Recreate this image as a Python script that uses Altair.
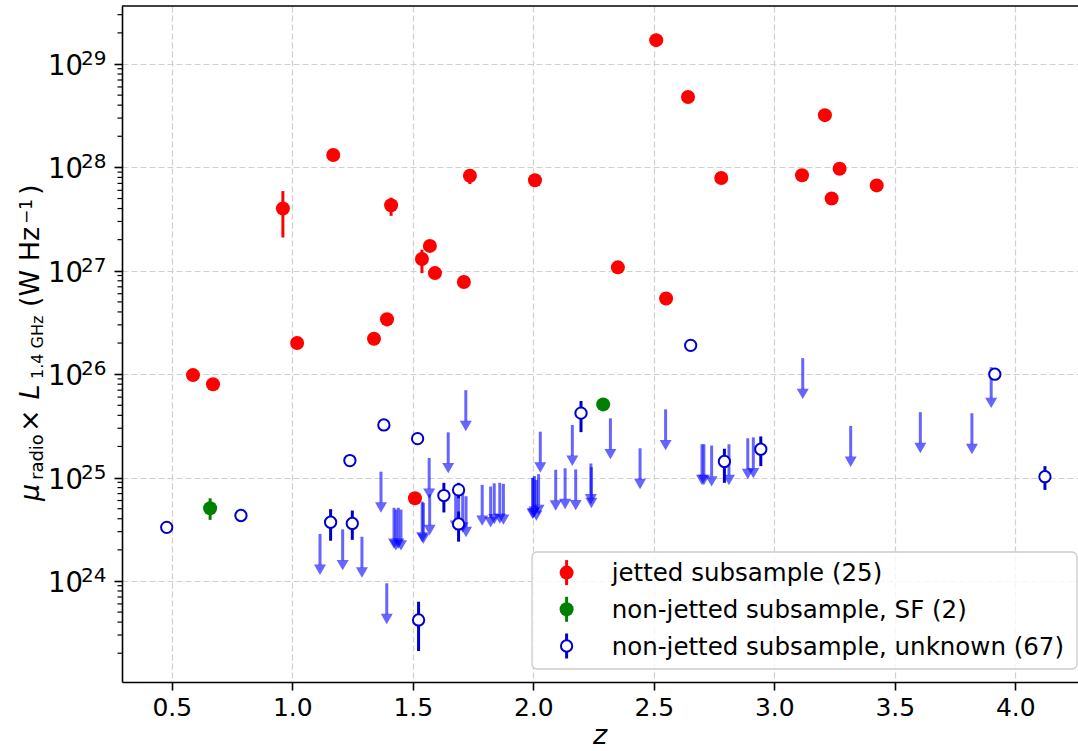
import altair as alt
import pandas as pd

# ---------------- data ----------------
# jetted subsample (25)
jet_z = [0.588, 0.671, 0.961, 1.020, 1.170, 1.339, 1.393, 1.410, 1.509, 1.538,
         1.571, 1.592, 1.712, 1.737, 2.007, 2.351, 2.510, 2.551, 2.642, 2.780,
         3.115, 3.210, 3.238, 3.271, 3.425]
jet_L = [9.8e25, 8.0e25, 4.0e27, 2.0e26, 1.32e28, 2.2e26, 3.4e26, 4.3e27, 6.3e24, 1.3e27,
         1.74e27, 9.5e26, 7.8e26, 8.3e27, 7.5e27, 1.08e27, 1.7e29, 5.4e26, 4.8e28, 7.9e27,
         8.4e27, 3.2e28, 5.0e27, 9.7e27, 6.7e27]
jet_lo = [9.8e25, 8.0e25, 2.1e27, 2.0e26, 1.32e28, 2.2e26, 2.9e26, 3.4e27, 6.3e24, 9.5e26,
          1.74e27, 9.5e26, 7.8e26, 6.9e27, 7.5e27, 1.08e27, 1.7e29, 5.4e26, 4.8e28, 7.2e27,
          8.4e27, 3.2e28, 5.0e27, 9.7e27, 6.7e27]
jet_hi = [9.8e25, 8.0e25, 5.9e27, 2.0e26, 1.32e28, 2.2e26, 3.9e26, 5.1e27, 6.3e24, 1.6e27,
          1.74e27, 9.5e26, 7.8e26, 9.4e27, 7.5e27, 1.08e27, 1.7e29, 5.4e26, 4.8e28, 7.9e27,
          8.4e27, 3.2e28, 5.0e27, 9.7e27, 6.7e27]

# non-jetted subsample, SF (2)
sf_z = [0.659, 2.290]
sf_L = [5.05e24, 5.1e25]
sf_lo = [3.9e24, 4.4e25]
sf_hi = [6.3e24, 5.75e25]

# non-jetted subsample, unknown: detections (17)
unk_z = [0.479, 0.787, 1.159, 1.249, 1.239, 1.380, 1.520, 1.524, 1.629, 1.690,
         1.690, 2.198, 2.653, 2.793, 2.944, 3.915, 4.123]
unk_L = [3.3e24, 4.3e24, 3.7e24, 3.6e24, 1.46e25, 3.23e25, 2.38e25, 4.2e23, 6.7e24, 7.6e24,
         3.56e24, 4.2e25, 1.9e26, 1.43e25, 1.88e25, 1.0e26, 1.02e25]
unk_lo = [3.3e24, 4.3e24, 2.45e24, 2.5e24, 1.46e25, 3.23e25, 2.38e25, 2.1e23, 4.6e24, 6.3e24,
          2.4e24, 2.75e25, 1.9e26, 8.9e24, 1.29e25, 1.0e26, 7.6e24]
unk_hi = [3.3e24, 4.3e24, 4.95e24, 4.8e24, 1.46e25, 3.23e25, 2.38e25, 6.3e23, 8.9e24, 8.9e24,
          4.7e24, 5.5e25, 1.9e26, 1.9e25, 2.5e25, 1.0e26, 1.29e25]

# non-jetted subsample, unknown: upper limits (50)
lim_z = [1.115, 1.209, 1.289, 1.368, 1.392, 1.422, 1.440, 1.451, 1.539, 1.544,
         1.568, 1.570, 1.647, 1.720, 1.678, 1.707, 1.721, 1.788, 1.823, 1.838,
         1.861, 1.876, 2.029, 1.997, 2.005, 2.013, 2.022, 2.093, 2.132, 2.176,
         2.162, 2.239, 2.241, 2.320, 2.443, 2.549, 2.700, 2.708, 2.740, 2.812,
         2.890, 2.913, 3.118, 3.317, 3.606, 3.820, 3.900, 1.430, 2.000, 1.690]
lim_L = [2.85e24, 3.16e24, 2.68e24, 1.14e25, 9.5e23, 5.1e24, 5.1e24, 4.9e24, 5.85e24, 5.7e24,
         1.55e25, 6.9e24, 2.74e25, 7.0e25, 7.6e24, 7.3e24, 6.6e24, 8.5e24, 8.2e24, 8.8e24,
         8.9e24, 8.7e24, 2.78e25, 9.9e24, 1.035e25, 9.5e24, 1.08e25, 1.19e25, 1.23e25, 1.2e25,
         3.23e25, 1.37e25, 1.26e25, 3.74e25, 1.92e25, 4.57e25, 2.1e25, 2.1e25, 2.04e25, 2.1e25,
         2.4e25, 2.45e25, 1.43e26, 3.16e25, 4.29e25, 4.19e25, 1.17e26, 4.9e24, 1.0e25, 7.4e24]

x_ticks = [0.5, 1.0, 1.5, 2.0, 2.5, 3.0, 3.5, 4.0]
y_exps = [24, 25, 26, 27, 28, 29]
legend_labels = ["jetted subsample (25)",
                 "non-jetted subsample, SF (2)",
                 "non-jetted subsample, unknown (67)"]

# ---------------- layout / style ----------------
W, H = 956, 676
FONT = "DejaVu Sans"
XDOM = [0.2934, 4.2602]
YDOM = [1.054e23, 3.639e29]
RED, GREEN, DBLUE = "#ff0000", "#008000", "#0000cc"

xscale = alt.Scale(domain=XDOM, nice=False, zero=False)
yscale = alt.Scale(type="log", domain=YDOM, nice=False)

grid_kw = dict(grid=True, gridDash=[6, 3], gridColor="#d0d0d0", gridWidth=1.2,
               tickColor="black", tickWidth=1.6, tickSize=8,
               domainColor="black", domainWidth=1.6, title=None)
xaxis = alt.Axis(values=x_ticks, format=".1f", labelFont=FONT, labelFontSize=25,
                 labelColor="black", labelPadding=5, labelFlush=False,
                 labelOverlap=False, **grid_kw)
yaxis = alt.Axis(values=[10.0 ** e for e in y_exps], labels=False, **grid_kw)


def X(field):
    return alt.X(field, scale=xscale, axis=xaxis, title=None)


def Y(field):
    return alt.Y(field, scale=yscale, axis=yaxis, title=None)


one = pd.DataFrame({"k": [0]})

# ---------------- upper-limit arrows ----------------
lim_df = pd.DataFrame({"z": lim_z, "L": lim_L})
arr = alt.Chart(lim_df).transform_calculate(
    tail="datum.L * pow(10, -0.30)", head="datum.L * pow(10, -0.346)")
arrow_lines = arr.mark_rule(color="blue", opacity=0.6, strokeWidth=3).encode(
    x=X("z:Q"), y=Y("L:Q"), y2="tail:Q")
arrow_heads = arr.mark_point(shape="triangle-down", filled=True, size=144,
                             color="blue", opacity=0.6, strokeWidth=0).encode(
    x=X("z:Q"), y=Y("head:Q"))


def err_and_points(z, L, lo, hi, color, open_marker=False):
    df = pd.DataFrame({"z": z, "L": L, "lo": lo, "hi": hi})
    base = alt.Chart(df)
    bars = base.mark_rule(color=color, strokeWidth=3).encode(
        x=X("z:Q"), y=Y("lo:Q"), y2="hi:Q")
    if open_marker:
        pts = base.mark_point(shape="circle", fill="white", fillOpacity=1,
                              stroke=color, strokeWidth=2, size=128, opacity=1)
    else:
        pts = base.mark_circle(color=color, size=196, opacity=1)
    pts = pts.encode(x=X("z:Q"), y=Y("L:Q"))
    return [bars, pts]


jet_layers = err_and_points(jet_z, jet_L, jet_lo, jet_hi, RED)
sf_layers = err_and_points(sf_z, sf_L, sf_lo, sf_hi, GREEN)
unk_layers = err_and_points(unk_z, unk_L, unk_lo, unk_hi, DBLUE, open_marker=True)

# ---------------- top spine ----------------
top_spine = alt.Chart(one).mark_rule(color="black", strokeWidth=1.6).encode(
    x=alt.value(0), x2=alt.value(W), y=alt.value(0))

# ---------------- minor log ticks ----------------
minor_vals = [m * 10.0 ** k for k in range(23, 30) for m in range(2, 10)
              if YDOM[0] <= m * 10.0 ** k <= YDOM[1]]
minor = alt.Chart(pd.DataFrame({"L": minor_vals})).mark_rule(
    color="black", strokeWidth=1.2).encode(
    y=Y("L:Q"), x=alt.value(-4.5), x2=alt.value(0))

# ---------------- y tick labels 10^k ----------------
ylab_df = pd.DataFrame({"L": [10.0 ** e for e in y_exps], "e": [str(e) for e in y_exps]})
ylab_base = alt.Chart(ylab_df)
ylab_ten = ylab_base.mark_text(align="right", baseline="alphabetic", dy=11,
                               font=FONT, fontSize=27.5, color="black").encode(
    y=Y("L:Q"), x=alt.value(-39), text=alt.value("10"))
ylab_exp = ylab_base.mark_text(align="left", baseline="alphabetic", dy=1,
                               font=FONT, fontSize=20, color="black").encode(
    y=Y("L:Q"), x=alt.value(-41), text="e:N")


# ---------------- axis titles (rich text) ----------------
def txt(s, size, x, y, angle=0, italic=False, align="left"):
    kw = dict(align=align, baseline="alphabetic", font=FONT, fontSize=size,
              color="black", angle=angle)
    if italic:
        kw["fontStyle"] = "italic"
    return alt.Chart(pd.DataFrame({"t": [s]})).mark_text(**kw).encode(
        x=alt.value(x), y=alt.value(y), text="t:N")


MAIN_X, SUB_X, SUP_X = -82.7, -78.7, -89.7
ytitle = [
    txt("μ", 27, MAIN_X, 495, 270, italic=True),
    txt("radio", 18, SUB_X, 474, 270),
    txt("×", 27, MAIN_X, 426, 270),
    txt("L", 27, MAIN_X, 393.5, 270, italic=True),
    txt("1.4 GHz", 16, SUB_X, 373, 270),
    txt("(W Hz", 27, MAIN_X, 301, 270),
    txt("−1", 17, SUP_X, 218, 270),
    txt(")", 27, MAIN_X, 189, 270),
]
xtitle = txt("z", 27, 478, 738, 0, italic=True, align="center")

# ---------------- legend ----------------
LX0, LX1, LY0, LY1 = 410, 955, 546, 663
legend_box = alt.Chart(one).mark_rect(
    cornerRadius=5, fill="white", fillOpacity=0.8, stroke="#cccccc",
    strokeWidth=1.3).encode(
    x=alt.value(LX0), x2=alt.value(LX1), y=alt.value(LY0), y2=alt.value(LY1))

legend_layers = [legend_box]
row_y = [566.6, 603.3, 640.0]
mk_x, text_x = 444.6, 489.7
for lab, ry, col, op in zip(legend_labels, row_y, [RED, GREEN, DBLUE], [False, False, True]):
    legend_layers.append(alt.Chart(one).mark_rule(color=col, strokeWidth=3).encode(
        x=alt.value(mk_x), y=alt.value(ry - 12.5), y2=alt.value(ry + 12.5)))
    if op:
        m = alt.Chart(one).mark_point(shape="circle", fill="white", fillOpacity=1,
                                      stroke=col, strokeWidth=2, size=128, opacity=1)
    else:
        m = alt.Chart(one).mark_circle(color=col, size=196, opacity=1)
    legend_layers.append(m.encode(x=alt.value(mk_x), y=alt.value(ry)))
    legend_layers.append(txt(lab, 24.5, text_x, ry + 8.5))

chart = alt.layer(
    arrow_lines, arrow_heads,
    *jet_layers, *sf_layers, *unk_layers,
    top_spine, minor, ylab_ten, ylab_exp,
    *ytitle, xtitle,
    *legend_layers,
).properties(
    width=W, height=H,
    autosize=alt.AutoSizeParams(type="none"),
    padding={"left": 122, "top": 6, "right": 0, "bottom": 69},
).configure_view(stroke=None)

chart.save("out.html", embed_options={"renderer": "svg", "actions": False})
